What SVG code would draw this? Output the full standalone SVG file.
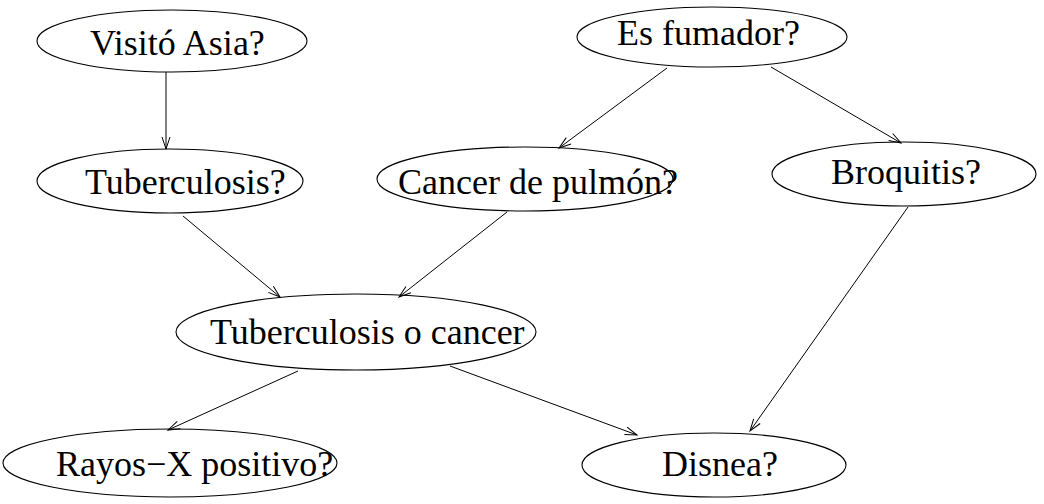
<svg xmlns="http://www.w3.org/2000/svg" width="1044" height="504" viewBox="0 0 1044 504">
<style>
.n ellipse{fill:#fff;stroke:#000;stroke-width:1.1}
.n text{font-family:"Liberation Serif","Times New Roman",serif;font-size:36px;fill:#000}
.e line{stroke:#000;stroke-width:1;marker-end:url(#ah)}
</style>
<defs>
<marker id="ah" markerUnits="userSpaceOnUse" markerWidth="14" markerHeight="10" refX="12" refY="4" orient="auto" overflow="visible">
<path d="M0,0 L12,4 L0,8" fill="none" stroke="#000" stroke-width="1"/>
</marker>
</defs>
<rect width="1044" height="504" fill="#fff"/>
<g id="nodes">
<g id="visito" class="n"><ellipse cx="172" cy="41" rx="135" ry="31"/><text x="90" y="55">Visitó Asia?</text></g>
<g id="fumador" class="n"><ellipse cx="712" cy="37" rx="135" ry="30"/><text x="617" y="45">Es fumador?</text></g>
<g id="tuberculosis" class="n"><ellipse cx="170" cy="181" rx="133" ry="32"/><text x="85" y="194">Tuberculosis?</text></g>
<g id="cancer" class="n"><ellipse cx="525" cy="179" rx="148" ry="32"/><text x="398" y="194">Cancer de pulmón?</text></g>
<g id="broquitis" class="n"><ellipse cx="904" cy="174" rx="132" ry="32"/><text x="831" y="184">Broquitis?</text></g>
<g id="tboc" class="n"><ellipse cx="356" cy="332" rx="180" ry="38"/><text x="210" y="344">Tuberculosis o cancer</text></g>
<g id="rayos" class="n"><ellipse cx="170" cy="463" rx="167" ry="34"/><text x="56" y="476">Rayos−X positivo?</text></g>
<g id="disnea" class="n"><ellipse cx="714" cy="465" rx="132" ry="32"/><text x="662" y="476">Disnea?</text></g>
</g>
<g id="connectors" class="e">
<line x1="166" y1="72" x2="166" y2="149"/>
<line x1="667" y1="68" x2="559" y2="148"/>
<line x1="771" y1="67" x2="901" y2="143"/>
<line x1="183" y1="216" x2="280" y2="297"/>
<line x1="507" y1="212" x2="399" y2="297"/>
<line x1="908" y1="207" x2="750" y2="431"/>
<line x1="298" y1="371" x2="168" y2="430"/>
<line x1="450" y1="366" x2="637" y2="435"/>
</g>
</svg>
